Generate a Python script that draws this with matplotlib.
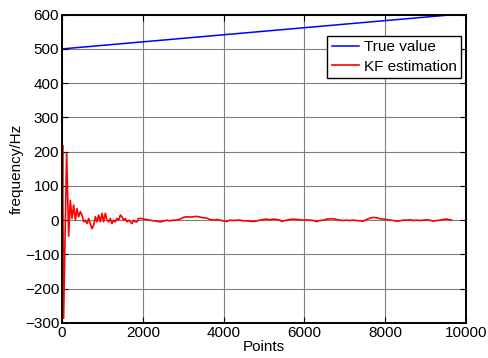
import matplotlib
matplotlib.use('Agg')
import matplotlib.pyplot as plt
import numpy as np

# true frequency: linear ramp over the record
true_pts = [0, 9680]
true_freq = [500, 600]

# Kalman filter estimate, sampled along the record
kf_pts = [0, 15, 40, 115, 165, 206, 248, 289, 330, 371, 412, 454, 495, 536,
          578, 619, 660, 701, 742, 784, 825, 866, 907, 949, 990, 1031, 1072,
          1114, 1155, 1196, 1237, 1279, 1320, 1361, 1402, 1444, 1485, 1526,
          1567, 1609, 1650, 1691, 1732, 1774, 1815, 1856, 1897, 1939, 1980,
          2013, 2095, 2178, 2260, 2343, 2426, 2508, 2591, 2673, 2756, 2838,
          2921, 3003, 3086, 3168, 3251, 3333, 3416, 3498, 3581, 3663, 3746,
          3828, 3911, 3993, 4076, 4158, 4241, 4323, 4406, 4488, 4571, 4653,
          4736, 4818, 4901, 4983, 5066, 5148, 5231, 5313, 5396, 5437, 5478,
          5561, 5643, 5726, 5808, 5891, 5973, 6056, 6138, 6221, 6303, 6386,
          6468, 6551, 6633, 6716, 6798, 6881, 6963, 7046, 7128, 7211, 7293,
          7376, 7458, 7541, 7623, 7706, 7788, 7871, 7953, 8036, 8118, 8201,
          8283, 8366, 8448, 8531, 8613, 8696, 8778, 8861, 8943, 9026, 9108,
          9191, 9273, 9356, 9438, 9521, 9603, 9645]
kf_freq = [0, 219, -287, 196, -47, 58, 5, 44, 0, 34, 10, 25, 15, -5,
           0, -10, 5, -10, -25, -15, 10, -5, 15, -5, 20, -5, 20,
           0, -5, 5, -10, 0, -5, 5, 0, 15, 10, 0,
           5, -5, 0, -5, -10, 0, -5, -5, 5, 5, 5,
           3, 2, 0, -2, -3, -5, -3, 0, -2, 0, 0,
           3, 8, 10, 9, 10, 11, 9, 7, 6, 2, 0,
           2, 0, -2, -4, 0, -1, 0, 0, -2, -2, -3,
           -4, -2, 0, 2, 3, 1, 3, 2, 0, -4, -2,
           0, 2, 3, 2, 1, 0, 1, 0, -1, -4, -1,
           0, 3, 4, 4, 2, 0, -1, 0, -1, 0, -1,
           -2, -3, 2, 6, 8, 7, 4, 3, 2, 0, -1,
           -3, -2, 0, 0, 1, -1, 0, -1, 0, 1, 0,
           -3, -1, 0, 2, 3, 1, 0]

plt.rcParams['font.family'] = ['Liberation Sans', 'DejaVu Sans']
plt.rcParams['font.size'] = 11

fig = plt.figure(figsize=(4.88, 3.58), dpi=100)
ax = fig.add_axes([0.127, 0.098, 0.828, 0.861])

ax.plot(true_pts, true_freq, color=(0, 0, 1), lw=1.1, label='True value')
ax.plot(kf_pts, kf_freq, color=(1, 0, 0), lw=1.2, label='KF estimation')

ax.set_xlim(0, 10000)
ax.set_ylim(-300, 600)
ax.set_xticks(np.arange(0, 10001, 2000))
ax.set_yticks(np.arange(-300, 601, 100))
ax.grid(True, color='#7f7f7f', lw=0.8)
ax.set_axisbelow(True)
ax.tick_params(direction='in', top=True, right=True, length=4, width=0.8,
               pad=2, colors='black', labelsize=11)
for s in ax.spines.values():
    s.set_linewidth(1.4)
    s.set_color('black')

ax.set_xlabel('Points', labelpad=0)
ax.set_ylabel('frequency/Hz', labelpad=1)

leg = ax.legend(loc='upper right', bbox_to_anchor=(0.988, 0.932), fancybox=False,
                framealpha=1, edgecolor='black', handlelength=1.8,
                borderpad=0.3, labelspacing=0.35, handletextpad=0.3,
                borderaxespad=0.0, fontsize=11)
leg.get_frame().set_linewidth(1.0)

fig.savefig('out.png', dpi=100)
